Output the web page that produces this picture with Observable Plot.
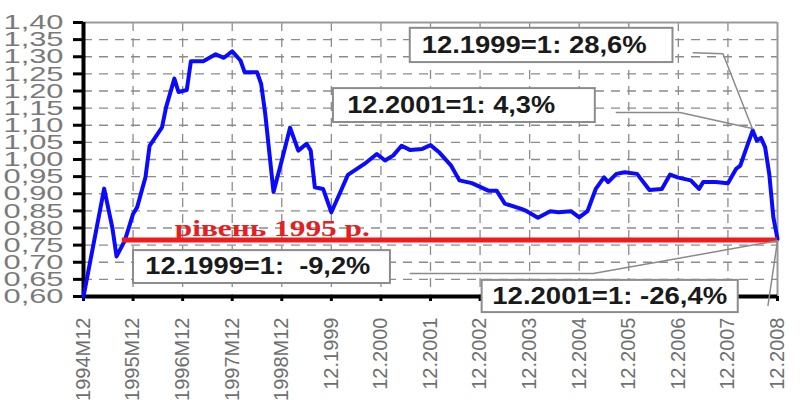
<!DOCTYPE html>
<html><head><meta charset="utf-8">
<script src="https://cdn.jsdelivr.net/npm/d3@7"></script>
<script src="https://cdn.jsdelivr.net/npm/@observablehq/plot@0.6"></script>
<style>body{margin:0;background:#fff;}</style>
</head><body><div id="chart"></div>
<script>
// month index counted from 1994M12 (0) to 12.2008 (168)
const months = [0,5,7,8,10,12,13,15,16,19,20,22,23,25,26,29,32,34,36,38,39,42,43,44,46,48,50,52,54,55,56,58,60,62,64,65,68,71,73,75,77,79,82,84,86,89,91,94,98,100,102,106,107,110,113,115,118,120,122,124,126,127,129,131,134,137,140,142,144,147,149,150,153,156,158,159,160,162,163,164,165,166,167,168];
const values = [0.600,0.915,0.800,0.717,0.763,0.841,0.861,0.948,1.040,1.094,1.153,1.236,1.197,1.203,1.287,1.287,1.307,1.297,1.316,1.289,1.255,1.255,1.221,1.133,0.905,0.997,1.093,1.026,1.046,1.026,0.919,0.914,0.846,0.900,0.955,0.963,0.987,1.016,0.997,1.012,1.040,1.028,1.031,1.042,1.022,0.982,0.939,0.931,0.909,0.909,0.871,0.856,0.851,0.830,0.849,0.846,0.849,0.831,0.849,0.914,0.948,0.934,0.958,0.963,0.958,0.911,0.914,0.956,0.947,0.939,0.914,0.934,0.934,0.931,0.973,0.982,1.017,1.085,1.055,1.063,1.036,0.958,0.831,0.768];

const xTickMonths = [0,12,24,36,48,60,72,84,96,108,120,132,144,156,168];
const xTickLabels = ["1994M12","1995M12","1996M12","1997M12","1998M12","12.1999","12.2000","12.2001","12.2002","12.2003","12.2004","12.2005","12.2006","12.2007","12.2008"];
const yTicks = [0.60,0.65,0.70,0.75,0.80,0.85,0.90,0.95,1.00,1.05,1.10,1.15,1.20,1.25,1.30,1.35,1.40];

const levelLabel = "рівень 1995 р.";
const level = [{value: 0.765, from: 9.4, to: 168}];
const levelLabelAt = [{x: 45.7, y: 0.797, text: levelLabel}];

const annotationTexts = ["12.1999=1: 28,6%", "12.2001=1: 4,3%", "12.1999=1:  -9,2%", "12.2001=1: -26,4%"];
// annotation boxes in data units (month index, value)
const boxX1 = [79.1, 60.5, 12.1, 96.5];
const boxX2 = [142.7, 123.9, 74.3, 158.5];
const boxY1 = [1.383, 1.207, 0.734, 0.647];
const boxY2 = [1.283, 1.108, 0.638, 0.553];
const textX = [109.1, 89.0, 42.2, 127.4];
const textY = [1.333, 1.158, 0.688, 0.600];
const textWidths = [225, 208, 225, 235];
// leader lines
const leaderId = [0,0,0, 1,1,1, 2,2,2, 3,3];
const leaderX = [147.6,154.8,161.9, 129.0,144.4,161.9, 79.1,123.4,168.0, 165.7,168.0];
const leaderY = [1.312,1.309,1.0905, 1.137,1.137,1.0905, 0.667,0.667,0.763, 0.574,0.763];

const series = months.map((m, i) => ({m, v: values[i]}));
const boxes = annotationTexts.map((t, i) => ({t, x1: boxX1[i], x2: boxX2[i], y1: boxY1[i], y2: boxY2[i], x: textX[i], y: textY[i]}));
const leaders = leaderId.map((id, i) => ({id, x: leaderX[i], y: leaderY[i]}));
const yGrid = yTicks.slice(1, -1);
const xGrid = xTickMonths.slice(1, -1);

const chart = Plot.plot({
  width: 811, height: 400,
  marginLeft: 83, marginRight: 34, marginTop: 22, marginBottom: 104,
  style: {fontFamily: "'Liberation Sans', Arial, sans-serif", background: "#fff"},
  x: {domain: [0, 168], axis: null},
  y: {domain: [0.6, 1.4], axis: null},
  marks: [
    Plot.ruleY(yGrid, {stroke: "#8c8c8c", strokeWidth: 1.3, strokeDasharray: "9,7"}),
    Plot.ruleX(xGrid, {stroke: "#8c8c8c", strokeWidth: 1.3, strokeDasharray: "9,7"}),
    Plot.ruleY([1.4], {stroke: "#999", strokeWidth: 2}),
    Plot.ruleX([168], {stroke: "#999", strokeWidth: 2}),
    Plot.axisY({ticks: yTicks, tickSize: 10, tickPadding: 10, fontSize: 21, fill: "#7a7a7a", stroke: "black", strokeWidth: 3,
      tickFormat: d => d.toFixed(2).replace(".", ",")}),
    Plot.axisX({ticks: xTickMonths, tickSize: 5, tickPadding: 16, tickRotate: -90, fontSize: 20, fill: "#6f6f6f", stroke: "black", strokeWidth: 3,
      tickFormat: d => xTickLabels[xTickMonths.indexOf(d)]}),
    Plot.ruleX([0], {stroke: "black", strokeWidth: 4}),
    Plot.ruleY([0.6], {stroke: "black", strokeWidth: 4}),
    Plot.text(levelLabelAt, {x: "x", y: "y", text: "text", fill: "#e02222", fontSize: 23, fontWeight: "bold",
      fontFamily: "'Liberation Serif', 'DejaVu Serif', serif", textAnchor: "middle", lineAnchor: "middle"}),
    Plot.line(series, {x: "m", y: "v", stroke: "#0a0aff", strokeWidth: 4}),
    Plot.ruleY(level, {y: "value", x1: "from", x2: "to", stroke: "#f21a1a", strokeWidth: 5}),
    Plot.line(leaders, {x: "x", y: "y", z: "id", stroke: "#8a8a8a", strokeWidth: 1.5}),
    Plot.rect(boxes, {x1: "x1", x2: "x2", y1: "y1", y2: "y2", fill: "white", stroke: "#8c8c8c", strokeWidth: 2}),
    Plot.text(boxes, {x: "x", y: "y", text: "t", fontSize: 23, fontWeight: "bold", fill: "#1a1a1a", textAnchor: "middle", lineAnchor: "middle"})
  ]
});
document.getElementById("chart").appendChild(chart);

const svg = d3.select(chart);
svg.selectAll('g[aria-label="y-axis tick label"] text')
  .attr("textLength", 60).attr("lengthAdjust", "spacingAndGlyphs");
svg.selectAll("text").each(function() {
  const t = this.textContent;
  const i = annotationTexts.indexOf(t);
  if (i >= 0) d3.select(this).attr("textLength", textWidths[i]).attr("lengthAdjust", "spacingAndGlyphs");
  else if (t === levelLabel) d3.select(this).attr("textLength", 195).attr("lengthAdjust", "spacingAndGlyphs");
});
</script>
</body></html>
